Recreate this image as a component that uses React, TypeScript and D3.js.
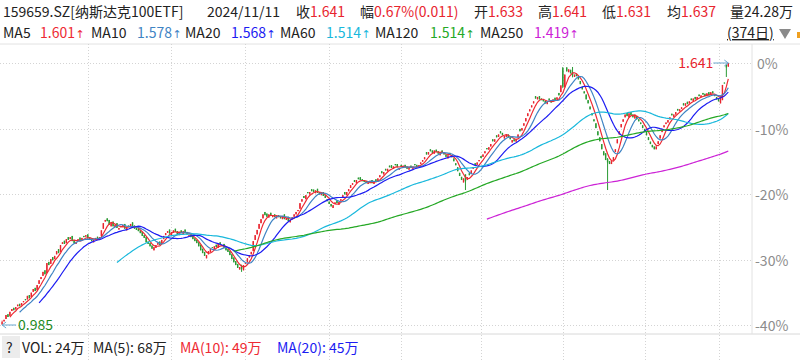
import React from 'react';
import * as d3 from 'd3';

// ---- data ----
const closes: number[] = [
  0.992, 0.998, 1.010, 1.005, 1.018, 1.025, 1.022, 1.030, 1.036, 1.032,
  1.040, 1.045, 1.047, 1.058, 1.052, 1.066, 1.075, 1.070, 1.085, 1.097,
  1.105, 1.118, 1.112, 1.140, 1.135, 1.150, 1.147, 1.158, 1.170, 1.165,
  1.185, 1.192, 1.188, 1.200, 1.198, 1.205, 1.195, 1.190, 1.193, 1.200,
  1.196, 1.203, 1.205, 1.210, 1.202, 1.198, 1.195, 1.198, 1.203, 1.200,
  1.205, 1.222, 1.240, 1.248, 1.245, 1.236, 1.240, 1.232, 1.236, 1.228,
  1.228, 1.232, 1.235, 1.226, 1.230, 1.230, 1.238, 1.232, 1.226, 1.223,
  1.220, 1.215, 1.208, 1.203, 1.192, 1.188, 1.182, 1.176, 1.180, 1.185,
  1.190, 1.185, 1.198, 1.208, 1.215, 1.220, 1.214, 1.218, 1.222, 1.218,
  1.212, 1.218, 1.215, 1.220, 1.215, 1.212, 1.210, 1.205, 1.200, 1.195,
  1.190, 1.182, 1.172, 1.165, 1.158, 1.160, 1.170, 1.175, 1.178, 1.182,
  1.180, 1.188, 1.185, 1.185, 1.178, 1.172, 1.168, 1.160, 1.150, 1.142,
  1.135, 1.128, 1.130, 1.125, 1.135, 1.140, 1.152, 1.160, 1.168, 1.195,
  1.210, 1.223, 1.238, 1.250, 1.262, 1.260, 1.256, 1.262, 1.258, 1.260,
  1.255, 1.258, 1.255, 1.252, 1.258, 1.250, 1.253, 1.245, 1.248, 1.255,
  1.262, 1.268, 1.273, 1.290, 1.300, 1.303, 1.310, 1.315, 1.318, 1.320,
  1.318, 1.322, 1.316, 1.312, 1.316, 1.308, 1.303, 1.295, 1.288, 1.282,
  1.285, 1.292, 1.290, 1.293, 1.300, 1.310, 1.312, 1.318, 1.325, 1.335,
  1.340, 1.343, 1.348, 1.350, 1.348, 1.345, 1.343, 1.340, 1.343, 1.346,
  1.340, 1.343, 1.345, 1.352, 1.360, 1.365, 1.368, 1.372, 1.376, 1.380,
  1.378, 1.382, 1.385, 1.380, 1.378, 1.382, 1.384, 1.380, 1.376, 1.380,
  1.378, 1.382, 1.385, 1.380, 1.385, 1.392, 1.398, 1.405, 1.412, 1.418,
  1.420, 1.416, 1.422, 1.418, 1.414, 1.416, 1.418, 1.412, 1.406, 1.410,
  1.411, 1.405, 1.395, 1.385, 1.370, 1.358, 1.348, 1.352, 1.345, 1.355,
  1.360, 1.372, 1.380, 1.385, 1.392, 1.398, 1.403, 1.412, 1.420, 1.425,
  1.430, 1.438, 1.445, 1.450, 1.455, 1.462, 1.465, 1.460, 1.458, 1.462,
  1.455, 1.450, 1.448, 1.445, 1.450, 1.462, 1.470, 1.478, 1.490, 1.503,
  1.515, 1.525, 1.535, 1.545, 1.552, 1.556, 1.550, 1.548, 1.545, 1.540,
  1.545, 1.548, 1.542, 1.550, 1.548, 1.555, 1.560, 1.585, 1.582, 1.612,
  1.620, 1.625, 1.615, 1.610, 1.612, 1.608, 1.600, 1.588, 1.575, 1.565,
  1.550, 1.540, 1.525, 1.510, 1.495, 1.478, 1.460, 1.445, 1.425, 1.410,
  1.398, 1.392, 1.388, 1.395, 1.405, 1.425, 1.450, 1.470, 1.488, 1.500,
  1.512, 1.508, 1.515, 1.510, 1.505, 1.512, 1.500, 1.495, 1.488, 1.478,
  1.470, 1.460, 1.448, 1.438, 1.430, 1.425, 1.432, 1.445, 1.460, 1.475,
  1.485, 1.492, 1.498, 1.505, 1.510, 1.512, 1.518, 1.522, 1.525, 1.530,
  1.535, 1.540, 1.538, 1.545, 1.548, 1.552, 1.550, 1.556, 1.558, 1.560,
  1.562, 1.558, 1.565, 1.560, 1.568, 1.565, 1.558, 1.550, 1.545, 1.558,
  1.586, 1.590, 1.630, 1.641,
];

const opens: number[] = [
  0.988, 0.994, 1.000, 1.012, 1.008, 1.020, 1.028, 1.024, 1.032, 1.038,
  1.034, 1.042, 1.050, 1.049, 1.060, 1.055, 1.068, 1.078, 1.072, 1.088,
  1.100, 1.108, 1.122, 1.115, 1.143, 1.138, 1.155, 1.150, 1.162, 1.175,
  1.168, 1.188, 1.196, 1.190, 1.205, 1.200, 1.208, 1.198, 1.188, 1.196,
  1.204, 1.198, 1.208, 1.206, 1.212, 1.204, 1.200, 1.192, 1.200, 1.206,
  1.198, 1.208, 1.226, 1.244, 1.252, 1.248, 1.232, 1.244, 1.230, 1.240,
  1.224, 1.230, 1.230, 1.238, 1.222, 1.234, 1.232, 1.242, 1.234, 1.228,
  1.226, 1.222, 1.218, 1.210, 1.205, 1.194, 1.190, 1.184, 1.172, 1.178,
  1.186, 1.194, 1.188, 1.200, 1.210, 1.216, 1.224, 1.210, 1.216, 1.226,
  1.220, 1.210, 1.222, 1.212, 1.224, 1.218, 1.208, 1.212, 1.208, 1.202,
  1.198, 1.192, 1.186, 1.176, 1.168, 1.152, 1.162, 1.168, 1.180, 1.175,
  1.186, 1.178, 1.192, 1.182, 1.188, 1.180, 1.175, 1.170, 1.162, 1.154,
  1.145, 1.138, 1.124, 1.134, 1.122, 1.138, 1.142, 1.154, 1.162, 1.170,
  1.198, 1.212, 1.226, 1.240, 1.252, 1.268, 1.264, 1.254, 1.266, 1.255,
  1.262, 1.252, 1.260, 1.258, 1.250, 1.262, 1.248, 1.256, 1.242, 1.250,
  1.256, 1.262, 1.270, 1.276, 1.294, 1.308, 1.300, 1.318, 1.312, 1.325,
  1.324, 1.315, 1.326, 1.318, 1.310, 1.318, 1.310, 1.300, 1.294, 1.288,
  1.278, 1.288, 1.296, 1.286, 1.296, 1.304, 1.318, 1.310, 1.320, 1.328,
  1.336, 1.348, 1.340, 1.354, 1.355, 1.350, 1.348, 1.346, 1.338, 1.340,
  1.348, 1.338, 1.350, 1.346, 1.355, 1.370, 1.362, 1.376, 1.370, 1.384,
  1.385, 1.376, 1.388, 1.388, 1.374, 1.386, 1.378, 1.386, 1.382, 1.374,
  1.384, 1.376, 1.388, 1.386, 1.380, 1.388, 1.394, 1.400, 1.418, 1.412,
  1.425, 1.422, 1.414, 1.424, 1.420, 1.410, 1.422, 1.416, 1.412, 1.402,
  1.416, 1.410, 1.402, 1.390, 1.380, 1.366, 1.356, 1.342, 1.362, 1.348,
  1.365, 1.364, 1.376, 1.390, 1.386, 1.395, 1.408, 1.406, 1.415, 1.428,
  1.424, 1.432, 1.450, 1.444, 1.460, 1.456, 1.470, 1.466, 1.452, 1.456,
  1.462, 1.455, 1.442, 1.450, 1.444, 1.455, 1.476, 1.472, 1.484, 1.495,
  1.508, 1.520, 1.530, 1.540, 1.558, 1.550, 1.558, 1.552, 1.550, 1.546,
  1.538, 1.552, 1.548, 1.545, 1.554, 1.550, 1.566, 1.568, 1.628, 1.580,
  1.630, 1.618, 1.624, 1.618, 1.606, 1.614, 1.606, 1.596, 1.582, 1.570,
  1.562, 1.548, 1.532, 1.515, 1.500, 1.490, 1.470, 1.455, 1.438, 1.420,
  1.415, 1.400, 1.395, 1.388, 1.398, 1.418, 1.440, 1.462, 1.480, 1.494,
  1.505, 1.516, 1.505, 1.518, 1.512, 1.502, 1.508, 1.500, 1.492, 1.485,
  1.476, 1.468, 1.455, 1.444, 1.436, 1.432, 1.425, 1.438, 1.452, 1.468,
  1.480, 1.488, 1.492, 1.500, 1.514, 1.506, 1.512, 1.526, 1.520, 1.526,
  1.540, 1.534, 1.544, 1.540, 1.552, 1.546, 1.556, 1.550, 1.562, 1.555,
  1.566, 1.564, 1.558, 1.568, 1.562, 1.570, 1.562, 1.556, 1.552, 1.540,
  1.548, 1.592, 1.636, 1.633,
];

// days with visible shadows (high / low)
const wickDays: number[] = [0, 123, 238, 288, 293, 311, 372, 373];
const wickHighs: number[] = [0.996, 1.136, 1.362, 1.631, 1.631, 1.403, 1.638, 1.641];
const wickLows: number[] = [0.985, 1.118, 1.323, 1.578, 1.605, 1.323, 1.606, 1.631];

const gridDays: number[] = [44, 87, 125, 168, 205, 246, 288, 330, 368];
const pctTicks: number[] = [0, -10, -20, -30, -40];
const basePrice = 1.641;
const maxPrice = 1.641;
const minPrice = 0.985;

const maPeriods: number[] = [5, 10, 20, 60, 120, 250];
const maValues: string[] = ['1.601', '1.578', '1.568', '1.514', '1.514', '1.419'];
const maColors: string[] = ['#ee2a33', '#3f84c4', '#1c1cf2', '#19b8dc', '#25a825', '#cc22d6'];
const maLabelX: number[] = [3, 91, 185, 280, 375, 480];
const maValueX: number[] = [40, 137, 231, 326, 430, 534];

const volLabels: string[] = ['VOL: 24万', 'MA(5): 68万', 'MA(10): 49万', 'MA(20): 45万'];
const volColors: string[] = ['#222', '#222', '#ee2a33', '#1c1cf2'];
const volX: number[] = [22, 93, 180, 277];

const RED = '#e8242e';
const GREEN = '#2a9a34';
const FONT = '"Microsoft YaHei", "Noto Sans CJK SC", "Noto Sans", sans-serif';

export default function App() {
  const W = 800, H = 360;
  const plotTop = 44, plotBottom = 334, plotRight = 752;
  const n = closes.length;
  const x = d3.scaleLinear().domain([0, n - 1]).range([2.1, 728.3]);
  const y = d3.scaleLinear().domain([minPrice, maxPrice]).range([325, 63]);

  const ma = maPeriods.map((p) => {
    const pts: [number, number][] = [];
    for (let i = p - 1; i < n; i++) {
      const m = d3.mean(closes.slice(i - p + 1, i + 1)) as number;
      pts.push([i, m]);
    }
    return pts;
  });
  const line = d3.line<[number, number]>().x((d) => x(d[0])).y((d) => y(d[1]));

  const candles = closes.map((c, i) => {
    const o = opens[i];
    const k = wickDays.indexOf(i);
    const hi = k >= 0 ? wickHighs[k] : Math.max(o, c);
    const lo = k >= 0 ? wickLows[k] : Math.min(o, c);
    return { i, o, c, hi, lo };
  });

  const maxIdx = n - 1;
  const minIdx = 0;

  return (
    <svg width={W} height={H} style={{ display: 'block', position: 'absolute', left: 0, top: 0, background: '#fff' }} fontFamily={FONT}>
      <rect x={0} y={0} width={W} height={H} fill="#fff" />
      {/* header row 1 */}
      <g fontSize={14} fill="#222">
        <text x={3} y={17}>159659.SZ[纳斯达克100ETF]</text>
        <text x={207} y={17}>2024/11/11</text>
        <text x={296} y={17}>收<tspan fill={RED}>1.641</tspan></text>
        <text x={360} y={17}>幅<tspan fill={RED}>0.67%(0.011)</tspan></text>
        <text x={474} y={17}>开<tspan fill={RED}>1.633</tspan></text>
        <text x={538} y={17}>高<tspan fill={RED}>1.641</tspan></text>
        <text x={602} y={17}>低<tspan fill={RED}>1.631</tspan></text>
        <text x={667} y={17}>均<tspan fill={RED}>1.637</tspan></text>
        <text x={730} y={17}>量24.28万</text>
      </g>
      {/* header row 2: MA legend */}
      <g fontSize={14}>
        {maPeriods.map((p, k) => (
          <g key={p}>
            <text x={maLabelX[k]} y={38} fill="#222">MA{p}</text>
            <text x={maValueX[k]} y={38} fill={maColors[k]}>{maValues[k]}<tspan fontSize={11} dx={0.5} fontFamily="DejaVu Sans">↑</tspan></text>
          </g>
        ))}
        <text x={727} y={38} fill="#222" textDecoration="underline">(374日)</text>
        <path d="M779,29 L791,29 L785,39 Z" fill="#8a8a8a" />
        <rect x={797} y={32} width={3} height={6} fill="#f0a020" />
      </g>

      {/* frame */}
      <line x1={0} x2={W} y1={plotTop} y2={plotTop} stroke="#e2e2e2" />
      <line x1={0} x2={W} y1={plotBottom} y2={plotBottom} stroke="#d8d8d8" />
      <line x1={plotRight} x2={plotRight} y1={plotTop} y2={plotBottom} stroke="#e2e2e2" />

      {/* grid */}
      {gridDays.map((d) => (
        <line key={d} x1={Math.round(x(d)) + 0.5} x2={Math.round(x(d)) + 0.5} y1={plotTop} y2={H} stroke="#d4d4d4" strokeDasharray="1,2" />
      ))}
      {pctTicks.map((t) => {
        const yy = Math.round(y(basePrice * (1 + t / 100))) + 0.5;
        return (
          <g key={t}>
            <line x1={0} x2={plotRight} y1={yy} y2={yy} stroke="#d4d4d4" strokeDasharray="1,2" />
            <text x={t === 0 ? 757 : 755} y={yy + 5} fontSize={14} fill="#8c8c8c">{t}%</text>
          </g>
        );
      })}

      {/* candles */}
      {candles.map((d) => {
        const up = d.c >= d.o;
        const col = up ? RED : GREEN;
        const cx = x(d.i);
        const top = y(Math.max(d.o, d.c));
        const bot = y(Math.min(d.o, d.c));
        return (
          <g key={d.i}>
            <line x1={cx} x2={cx} y1={y(d.hi)} y2={y(d.lo)} stroke={col} strokeWidth={1} />
            <rect x={cx - 0.7} y={top} width={1.4} height={Math.max(1, bot - top)} fill={col} />
          </g>
        );
      })}

      {/* moving averages */}
      {ma.map((pts, k) => (
        <path key={k} d={line(pts) || ''} fill="none" stroke={maColors[k]} strokeWidth={1.2} />
      ))}

      {/* max / min markers */}
      <g>
        <text x={x(maxIdx) - 50} y={y(candles[maxIdx].hi) + 5} fontSize={14} fill={RED}>1.641</text>
        <line x1={x(maxIdx) - 15} x2={x(maxIdx)} y1={y(candles[maxIdx].hi)} y2={y(candles[maxIdx].hi)} stroke="#6aa8d0" />
        <path d={`M${x(maxIdx) - 4},${y(candles[maxIdx].hi) - 3} L${x(maxIdx)},${y(candles[maxIdx].hi)} L${x(maxIdx) - 4},${y(candles[maxIdx].hi) + 3}`} fill="none" stroke="#6aa8d0" />
        <text x={x(minIdx) + 16} y={y(candles[minIdx].lo) + 5} fontSize={14} fill="#1f8a1f">0.985</text>
        <line x1={x(minIdx)} x2={x(minIdx) + 14} y1={y(candles[minIdx].lo)} y2={y(candles[minIdx].lo)} stroke="#6aa8d0" />
        <path d={`M${x(minIdx) + 4},${y(candles[minIdx].lo) - 3} L${x(minIdx)},${y(candles[minIdx].lo)} L${x(minIdx) + 4},${y(candles[minIdx].lo) + 3}`} fill="none" stroke="#6aa8d0" />
      </g>

      {/* bottom volume legend */}
      <rect x={2} y={336} width={18} height={22} fill="#ececec" />
      <text x={6} y={353} fontSize={14} fill="#222">?</text>
      {volLabels.map((t, k) => (
        <text key={k} x={volX[k]} y={353} fontSize={14} fill={volColors[k]}>{t}</text>
      ))}
    </svg>
  );
}
